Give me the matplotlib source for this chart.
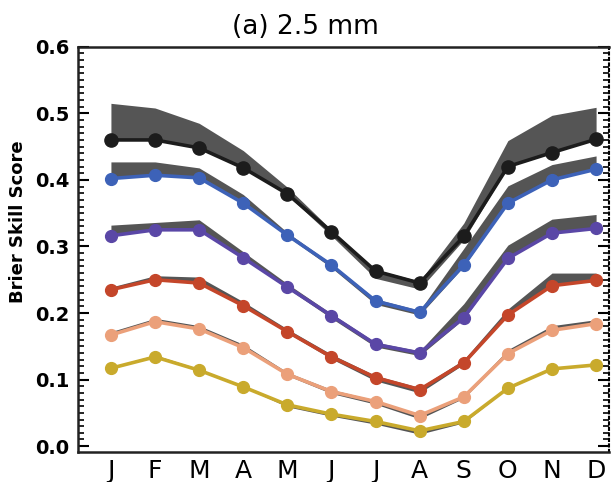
import numpy as np
import matplotlib
matplotlib.use("Agg")
import matplotlib.pyplot as plt
from matplotlib.ticker import MultipleLocator

months = ["J", "F", "M", "A", "M", "J", "J", "A", "S", "O", "N", "D"]

# line values (Brier Skill Score), and the upper / lower edge of each grey band
black = [0.460, 0.460, 0.448, 0.418, 0.379, 0.322, 0.263, 0.245, 0.315, 0.420, 0.441, 0.461]
black_hi = [0.515, 0.508, 0.485, 0.444, 0.389, 0.325, 0.265, 0.248, 0.335, 0.459, 0.497, 0.509]
black_lo = [0.460, 0.460, 0.448, 0.418, 0.377, 0.316, 0.252, 0.236, 0.310, 0.420, 0.441, 0.461]

blue = [0.402, 0.407, 0.403, 0.365, 0.317, 0.272, 0.218, 0.201, 0.272, 0.365, 0.400, 0.416]
blue_hi = [0.427, 0.427, 0.418, 0.378, 0.321, 0.274, 0.221, 0.204, 0.297, 0.391, 0.423, 0.436]
blue_lo = [0.402, 0.407, 0.403, 0.365, 0.315, 0.268, 0.213, 0.197, 0.270, 0.365, 0.400, 0.416]

purple = [0.316, 0.325, 0.325, 0.283, 0.239, 0.196, 0.153, 0.140, 0.193, 0.282, 0.320, 0.327]
purple_hi = [0.332, 0.336, 0.340, 0.292, 0.244, 0.199, 0.156, 0.143, 0.214, 0.302, 0.341, 0.348]
purple_lo = [0.316, 0.325, 0.325, 0.283, 0.237, 0.192, 0.149, 0.136, 0.191, 0.282, 0.320, 0.327]

red = [0.235, 0.250, 0.245, 0.211, 0.172, 0.134, 0.103, 0.085, 0.125, 0.197, 0.241, 0.249]
red_hi = [0.239, 0.256, 0.254, 0.217, 0.176, 0.138, 0.106, 0.088, 0.130, 0.206, 0.260, 0.260]
red_lo = [0.235, 0.250, 0.245, 0.211, 0.170, 0.131, 0.098, 0.080, 0.123, 0.197, 0.241, 0.249]

salmon = [0.167, 0.187, 0.176, 0.148, 0.108, 0.082, 0.067, 0.046, 0.074, 0.139, 0.174, 0.184]
salmon_hi = [0.172, 0.192, 0.181, 0.153, 0.111, 0.085, 0.069, 0.048, 0.076, 0.145, 0.181, 0.190]
salmon_lo = [0.167, 0.187, 0.176, 0.148, 0.106, 0.079, 0.063, 0.041, 0.072, 0.139, 0.174, 0.184]

gold = [0.117, 0.134, 0.114, 0.089, 0.062, 0.048, 0.037, 0.023, 0.037, 0.087, 0.116, 0.122]
gold_hi = [0.119, 0.137, 0.116, 0.091, 0.063, 0.050, 0.038, 0.024, 0.038, 0.088, 0.117, 0.123]
gold_lo = [0.117, 0.134, 0.114, 0.089, 0.059, 0.045, 0.033, 0.018, 0.035, 0.087, 0.116, 0.122]

series = [
    (black, black_hi, black_lo, "#1c1c1c", 9.5),
    (blue, blue_hi, blue_lo, "#3d62b8", 8.5),
    (purple, purple_hi, purple_lo, "#5a47a6", 8.5),
    (red, red_hi, red_lo, "#c4462a", 8.5),
    (salmon, salmon_hi, salmon_lo, "#eba07a", 8.5),
    (gold, gold_hi, gold_lo, "#c9aa2c", 8.5),
]

x = np.arange(len(months))

fig = plt.figure(figsize=(6.13, 4.82), dpi=100)
ax = fig.add_axes([0.127, 0.062, 0.867, 0.841])

for vals, hi, lo, col, ms in series:
    ax.fill_between(x, lo, hi, color="#555555", lw=0, zorder=1)
    ax.plot(x, vals, color=col, lw=2.6, marker="o", markersize=ms, zorder=3)

ax.set_xlim(-0.75, 11.3)
ax.set_ylim(-0.009, 0.6)
ax.set_xticks(x)
ax.set_xticklabels(months, fontsize=18)
ax.yaxis.set_minor_locator(MultipleLocator(0.01))
ax.set_yticks(np.arange(0, 0.61, 0.1))
ax.set_yticklabels(["%.1f" % v for v in np.arange(0, 0.61, 0.1)], fontsize=14, fontweight="bold")
ax.tick_params(axis="x", length=0, pad=5)
ax.tick_params(axis="y", which="major", direction="in", length=8, width=1.5, left=True, right=True, pad=6)
ax.tick_params(axis="y", which="minor", direction="in", length=4, width=1.2, left=True, right=True)

for side in ["left", "bottom", "top"]:
    ax.spines[side].set_linewidth(1.8)
    ax.spines[side].set_color("#222222")
ax.spines["right"].set_linestyle(":")
ax.spines["right"].set_linewidth(1.5)

fig.text(0.4975, 1 - 27 / 482, "(a) 2.5 mm", ha="center", va="center", fontsize=19)
fig.text(18 / 613, 1 - 222 / 482, "Brier Skill Score", rotation=90, ha="center", va="center",
         fontsize=13, fontweight="bold")

fig.savefig("out.png", dpi=100)
